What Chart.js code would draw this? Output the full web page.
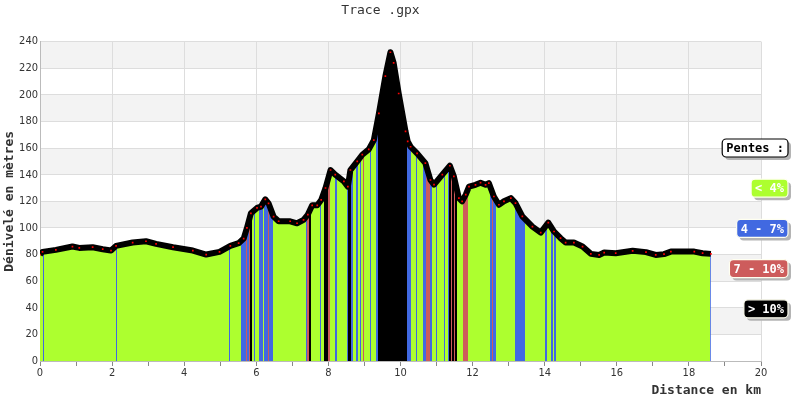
<!DOCTYPE html>
<html lang="fr">
<head>
<meta charset="UTF-8">
<title>Trace .gpx</title>
<script src="https://cdn.jsdelivr.net/npm/chart.js"></script>
<style>
    body { margin: 0; background: #fff; }
</style>
</head>
<body>
<canvas id="profileChart" width="800" height="400"></canvas>
<script>
// profil : distance (km) / altitude (m)
const distKm = [0.00, 0.07, 0.44, 0.90, 1.09, 1.46, 1.74, 1.97, 2.11, 2.57, 2.94, 3.22, 3.69, 4.24, 4.61, 4.98,
    5.28, 5.51, 5.65, 5.74, 5.85, 6.02, 6.13, 6.25, 6.34, 6.48, 6.62, 6.94, 7.13, 7.31, 7.43, 7.55, 7.69,
    7.80, 7.92, 8.06, 8.19, 8.43, 8.54, 8.61, 8.80, 8.94, 9.12, 9.26, 9.40, 9.58, 9.72, 9.81, 9.95, 10.14,
    10.20, 10.28, 10.46, 10.69, 10.83, 10.93, 11.16, 11.37, 11.48, 11.62, 11.71, 11.81, 11.90, 12.08, 12.22,
    12.36, 12.45, 12.59, 12.73, 12.87, 13.06, 13.19, 13.38, 13.66, 13.89, 14.10, 14.26, 14.44, 14.58, 14.81,
    15.05, 15.28, 15.51, 15.65, 15.97, 16.44, 16.81, 17.08, 17.31, 17.50, 18.15, 18.38, 18.61];
const elevM = [80, 82, 83.5, 86, 85, 85.5, 84, 83, 86.5, 89, 90, 88, 85.5, 83, 80, 82,
    86.5, 88.5, 92, 100, 111, 115, 116, 121.5, 118.5, 108.5, 105, 105, 103.5, 106, 110, 117, 117,
    121, 130, 143.5, 140, 135, 131, 143.5, 150, 155, 159, 166, 186, 214, 232, 224, 201, 172.5,
    165, 161, 156, 148.7, 136, 132.5, 140, 146.7, 138.7, 122.4, 120, 125, 131, 132.4, 134,
    132.4, 133.7, 123.6, 117.4, 120, 122.4, 118.6, 108.6, 101, 96.5, 104, 97.3, 92.3, 89, 89,
    86, 80.5, 79.7, 81.5, 81, 82.8, 81.8, 79.7, 80.3, 82.2, 82.2, 81, 80.5];

// début de chaque tronçon de pente (km) et sa classe (0: <4%, 1: 4-7%, 2: 7-10%, 3: >10%)
const slopeStartKm = [0, 0.083, 0.111, 2.111, 2.139, 5.25, 5.278, 5.575, 5.722, 5.75, 5.806, 5.833, 5.881,
    5.925, 5.953, 6.075, 6.186, 6.222, 6.325, 6.361, 6.464, 7.389, 7.417, 7.453, 7.519, 7.778, 7.806,
    7.889, 7.981, 8.036, 8.194, 8.231, 8.528, 8.556, 8.639, 8.694, 8.778, 8.814, 8.869, 8.908, 8.964,
    9.0, 9.147, 9.194, 9.333, 9.369, 10.186, 10.278, 10.417, 10.444, 10.631, 10.714, 10.806, 10.861,
    10.972, 11.019, 11.194, 11.231, 11.319, 11.342, 11.389, 11.417, 11.481, 11.508, 11.556, 11.742,
    11.869, 12.481, 12.547, 12.575, 12.653, 13.167, 13.444, 14.0, 14.056, 14.167, 14.222, 14.264,
    14.306, 18.58];
const slopeClass = [0, 1, 0, 1, 0, 1, 0, 1, 2, 1, 2, 3, 0,
    1, 0, 1, 0, 1, 2, 1, 0, 1, 2, 3, 0, 1, 0,
    3, 2, 0, 1, 0, 1, 3, 1, 0, 1, 0, 1, 0, 2,
    0, 1, 0, 1, 3, 1, 0, 1, 0, 1, 2, 1, 0,
    1, 0, 1, 0, 1, 3, 2, 3, 2, 3, 0, 2,
    0, 1, 2, 1, 0, 1, 0, 1, 0, 1, 0, 1,
    0, 1];

const slopeLabels = ['< 4%', '4 - 7%', '7 - 10%', '> 10%'];
const slopeColors = ['#adff2f', '#4169e1', '#cd5c5c', '#000000'];

const monoFont = '"DejaVu Sans Mono", "Liberation Mono", monospace';
const tickFont = { family: '"DejaVu Sans Condensed", "Liberation Sans", sans-serif', size: 11 };

function slopeFill(context) {
    const chart = context.chart
    const x = chart.scales.x
    if (!chart.chartArea || !x) {
        return slopeColors[0]
    }
    const x0 = x.getPixelForValue(x.min)
    const x1 = x.getPixelForValue(x.max)
    const g = chart.ctx.createLinearGradient(x0, 0, x1, 0)
    const t = km => Math.min(1, Math.max(0, (x.getPixelForValue(km) - x0) / (x1 - x0)))
    slopeStartKm.forEach((km, i) => {
        const end = i + 1 < slopeStartKm.length ? slopeStartKm[i + 1] : distKm[distKm.length - 1]
        const c = slopeColors[slopeClass[i]]
        g.addColorStop(t(km), c)
        g.addColorStop(t(end), c)
    })
    return g
}

// bandes grises une sur deux
const bands = {
    id: 'bands',
    beforeDraw(chart) {
        const { ctx, chartArea, scales: { y } } = chart
        ctx.save()
        ctx.fillStyle = '#f3f3f3'
        y.ticks.forEach(tick => {
            if (tick.value > 0 && (tick.value / 20) % 2 === 0) {
                const top = y.getPixelForValue(tick.value)
                const bottom = y.getPixelForValue(tick.value - 20)
                ctx.fillRect(chartArea.left, top, chartArea.right - chartArea.left, bottom - top)
            }
        })
        ctx.restore()
    }
}

const slopeLegend = {
    id: 'slopeLegend',
    afterDraw(chart) {
        const ctx = chart.ctx
        const right = chart.width - 12
        const items = [{ text: 'Pentes :', bg: '#ffffff', fg: '#000000', border: '#000000' }]
            .concat(slopeLabels.map((l, i) => ({ text: l, bg: slopeColors[i], fg: '#ffffff', border: '#fffff0' })))
        ctx.save()
        ctx.font = 'bold 12px ' + monoFont
        ctx.textBaseline = 'middle'
        items.forEach((it, i) => {
            const w = ctx.measureText(it.text).width + 8
            const h = 18
            const top = 139 + i * 40.2
            const left = right - w
            ctx.fillStyle = '#b4b4b4'
            ctx.beginPath()
            ctx.roundRect(left + 3, top + 3, w, h, 4)
            ctx.fill()
            ctx.fillStyle = it.bg
            ctx.beginPath()
            ctx.roundRect(left, top, w, h, 4)
            ctx.fill()
            ctx.lineWidth = 1.2
            ctx.strokeStyle = it.border
            ctx.stroke()
            ctx.fillStyle = it.fg
            ctx.fillText(it.text, left + 4, top + h / 2 + 1)
        })
        ctx.restore()
    }
}

new Chart(document.getElementById('profileChart'), {
    type: 'line',
    data: {
        datasets: [{
            data: distKm.map((d, i) => ({ x: d, y: elevM[i] })),
            borderColor: '#000000',
            borderWidth: 6,
            borderJoinStyle: 'round',
            pointStyle: 'rect',
            pointRadius: 1.2,
            pointBorderWidth: 0,
            pointBackgroundColor: '#ff0000',
            fill: 'origin',
            backgroundColor: slopeFill,
            tension: 0
        }]
    },
    options: {
        responsive: false,
        animation: false,
        layout: { padding: { right: 39 } },
        plugins: {
            legend: { display: false },
            tooltip: { enabled: false },
            title: {
                display: true,
                text: 'Trace .gpx',
                color: '#333',
                font: { family: monoFont, size: 13, weight: 'normal' },
                padding: { top: 3, bottom: 23 }
            }
        },
        scales: {
            x: {
                type: 'linear',
                min: 0,
                max: 20,
                afterFit: s => { s.height = 39 },
                border: { color: '#bbbbbb' },
                grid: {
                    color: c => (c.tick && c.tick.value % 2 === 0) ? '#dddddd' : 'rgba(0,0,0,0)',
                    tickColor: '#888888',
                    tickLength: 5
                },
                ticks: {
                    stepSize: 1,
                    autoSkip: false,
                    maxRotation: 0,
                    padding: 1,
                    color: '#333',
                    font: tickFont,
                    callback: v => v % 2 === 0 ? v : ''
                },
                title: {
                    display: true,
                    text: 'Distance en km',
                    align: 'end',
                    color: '#333',
                    font: { family: monoFont, size: 13, weight: 'bold' },
                    padding: { top: 0, bottom: 2 }
                }
            },
            y: {
                min: 0,
                max: 240,
                afterFit: s => { s.width = 40 },
                border: { color: '#bbbbbb' },
                grid: { color: '#dddddd', drawTicks: false },
                ticks: { stepSize: 20, padding: 2, color: '#333', font: tickFont },
                title: {
                    display: true,
                    text: 'Dénivelé en mètres',
                    color: '#333',
                    font: { family: monoFont, size: 13, weight: 'bold' },
                    padding: { top: 2 }
                }
            }
        }
    },
    plugins: [bands, slopeLegend]
})
</script>
</body>
</html>
